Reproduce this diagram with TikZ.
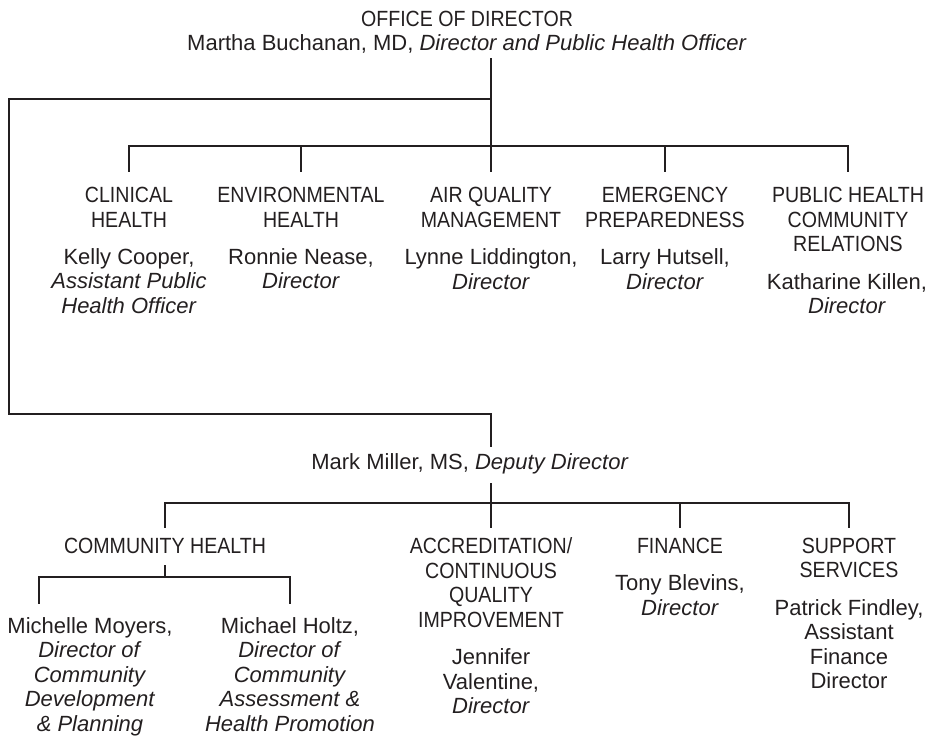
\documentclass[tikz,border=0pt]{standalone}
\usepackage{fontspec}
\setmainfont{Liberation Sans}
\newfontfamily\deptfamily{Liberation Sans}[FakeStretch=0.89]
\usetikzlibrary{positioning}
\definecolor{chartInk}{HTML}{231F20}
\newcommand{\deptfont}{\deptfamily\fontsize{22}{24.5}\selectfont}
\newcommand{\personfont}{\fontsize{22}{24.5}\selectfont}

\begin{document}
\begin{tikzpicture}[
    x=1pt, y=-1pt,
    node distance=21pt,
    dept/.style={align=center, inner sep=0pt, anchor=north,
                 font=\deptfont, text=chartInk},
    person/.style={align=center, inner sep=0pt, font=\personfont, text=chartInk},
    link/.style={draw=chartInk, line width=1.1pt},
    stub/.style={shorten >=#1},
  ]
  \useasboundingbox (0,0) rectangle (927,755);

  % office of director
  \node[dept] (office) at (467,10.5) {OFFICE OF DIRECTOR};
  \node[person, below=8pt of office] (dir) {Martha Buchanan, MD, \textit{Director and Public Health Officer}};

  % divisions under the director
  \node[dept] (clin) at (129,187) {CLINICAL\\HEALTH};
  \node[dept] (env) at (301,187) {ENVIRONMENTAL\\HEALTH};
  \node[dept] (aqm) at (491,187) {AIR QUALITY\\MANAGEMENT};
  \node[dept] (emp) at (665,187) {EMERGENCY\\PREPAREDNESS};
  \node[dept] (phcr) at (848,187) {PUBLIC HEALTH\\COMMUNITY\\RELATIONS};

  \node[person, below=of clin] (cooper) {Kelly Cooper,\\\textit{Assistant Public}\\\textit{Health Officer}};
  \node[person, below=of env] (nease) {Ronnie Nease,\\\textit{Director}};
  \node[person, below=of aqm] (liddington) {Lynne Liddington,\\\textit{Director}};
  \node[person, below=of emp] (hutsell) {Larry Hutsell,\\\textit{Director}};
  \node[person, below=of phcr, xshift=-1pt] (killen) {Katharine Killen,\\\textit{Director}};

  % deputy director
  \node[person, anchor=north] (dep) at (470,453) {Mark Miller, MS, \textit{Deputy Director}};

  % divisions under the deputy
  \node[dept] (ch) at (165,537.5) {COMMUNITY HEALTH};
  \node[dept] (acc) at (491,537.5) {ACCREDITATION/\\CONTINUOUS\\QUALITY\\IMPROVEMENT};
  \node[dept] (fin) at (680,537.5) {FINANCE};
  \node[dept] (sup) at (849,537.5) {SUPPORT\\SERVICES};

  \node[person, below=of acc] (valentine) {Jennifer\\Valentine,\\\textit{Director}};
  \node[person, below=of fin] (blevins) {Tony Blevins,\\\textit{Director}};
  \node[person, below=of sup] (findley) {Patrick Findley,\\Assistant\\Finance\\Director};

  \node[person, anchor=north] (moyers) at (90,617) {Michelle Moyers,\\\textit{Director of}\\\textit{Community}\\\textit{Development}\\\textit{\& Planning}};
  \node[person, anchor=north] (holtz) at (290,617) {Michael Holtz,\\\textit{Director of}\\\textit{Community}\\\textit{Assessment \&}\\\textit{Health Promotion}};

  % junctions
  \coordinate (j0) at (491,99);
  \coordinate (lt) at (9,99);
  \coordinate (lb) at (9,414);
  \coordinate (j1) at (491,146);
  \coordinate (j2) at (491,503);
  \coordinate (j3) at (165,577);
  \coordinate (mmtop) at (39,604);

  % connectors
  \draw[link, shorten <=4.5pt, stub=15pt] (dir.south -| j1) -- (aqm.north);
  \foreach \n in {clin,env,emp,phcr}
    \draw[link, stub=15pt] (j1) -| (\n.north);
  \draw[link, stub=6pt] (j0) -- (lt) -- (lb) -| (dep.north -| j0);
  \draw[link, shorten <=9.5pt, stub=9.5pt] (dep.south -| j2) -- (acc.north);
  \foreach \n in {ch,fin,sup}
    \draw[link, stub=9.5pt] (j2) -| (\n.north);
  \draw[link, shorten <=12pt] (ch.south) -- (j3);
  \draw[link] (j3) -| (mmtop);
  \draw[link, stub=13pt] (j3) -| (holtz.north);
\end{tikzpicture}
\end{document}
